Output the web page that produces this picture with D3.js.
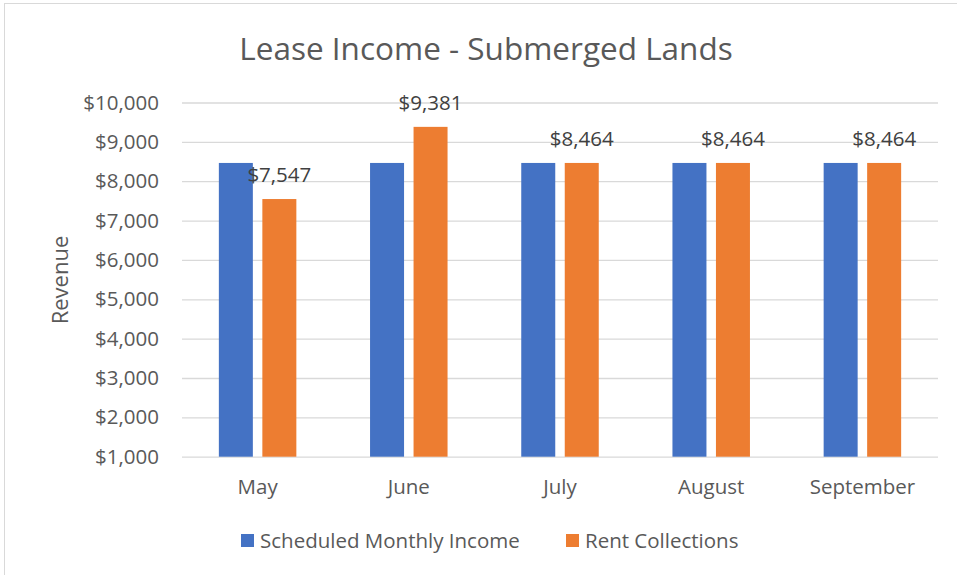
<!DOCTYPE html>
<html><head><meta charset="utf-8">
<script src="https://cdn.jsdelivr.net/npm/d3@7"></script>
<style>body{margin:0;background:#fff}svg{display:block;font-family:"Open Sans",sans-serif}</style>
</head><body><svg id="c" width="957" height="575"></svg>
<script>
const categories = ["May","June","July","August","September"];
const scheduled = [8464,8464,8464,8464,8464];
const collections = [7547,9381,8464,8464,8464];
const seriesNames = ["Scheduled Monthly Income","Rent Collections"];
const colors = ["#4472C4","#ED7D31"];
const yTicks = [1000,2000,3000,4000,5000,6000,7000,8000,9000,10000];

const svg = d3.select("#c");
svg.append("rect").attr("x",4.5).attr("y",3.5).attr("width",960).attr("height",580)
  .attr("fill","#fff").attr("stroke","#d9d9d9");

const m = {l:182,r:938,t:102.5,b:456.7};
const x = d3.scaleBand().domain(categories).range([m.l,m.r]).paddingInner(0).paddingOuter(0);
const y = d3.scaleLinear().domain([1000,10000]).range([m.b,m.t]);
const fmt = d => "$" + d3.format(",")(d);

svg.append("text").attr("x",486).attr("y",60).attr("text-anchor","middle")
  .attr("font-size",31.5).attr("fill","#595959").text("Lease Income - Submerged Lands");

const yAxis = svg.append("g").attr("transform",`translate(${m.l},0)`)
  .call(d3.axisLeft(y).tickValues(yTicks).tickFormat(fmt).tickSize(-(m.r-m.l)).tickPadding(23));
yAxis.select(".domain").remove();
yAxis.selectAll("line").attr("stroke","#d9d9d9").attr("stroke-width",1.3);
yAxis.selectAll("text").attr("font-size",20.5).attr("fill","#595959").attr("font-family","Open Sans");

const xAxis = svg.append("g").attr("transform",`translate(0,${m.b})`)
  .call(d3.axisBottom(x).tickSize(0).tickPadding(23));
xAxis.select(".domain").remove();
xAxis.selectAll("text").attr("font-size",20.5).attr("fill","#595959").attr("font-family","Open Sans");

svg.append("text").attr("transform",`translate(68,280) rotate(-90)`).attr("text-anchor","middle")
  .attr("font-size",22).attr("fill","#595959").text("Revenue");

const barW = 34, gap = 9.5;
const series = [scheduled, collections];
series.forEach((vals,si)=>{
  svg.append("g").selectAll("rect").data(vals).join("rect")
    .attr("x",(d,i)=> x(categories[i]) + x.bandwidth()/2 - barW - gap/2 + si*(barW+gap))
    .attr("width",barW)
    .attr("y",d=>y(d)).attr("height",d=>m.b-y(d))
    .attr("fill",colors[si]);
});
svg.append("g").selectAll("text").data(collections).join("text")
  .attr("x",(d,i)=> x(categories[i]) + x.bandwidth()/2 + gap/2 + barW/2)
  .attr("y",d=>y(d)-17).attr("text-anchor","middle")
  .attr("font-size",20.5).attr("fill","#404040").text(fmt);

const legX = [241,566];
seriesNames.forEach((n,i)=>{
  svg.append("rect").attr("x",legX[i]).attr("y",534).attr("width",13).attr("height",13).attr("fill",colors[i]);
  svg.append("text").attr("x",legX[i]+19).attr("y",548).attr("font-size",20.5).attr("fill","#595959").text(n);
});
</script></body></html>
